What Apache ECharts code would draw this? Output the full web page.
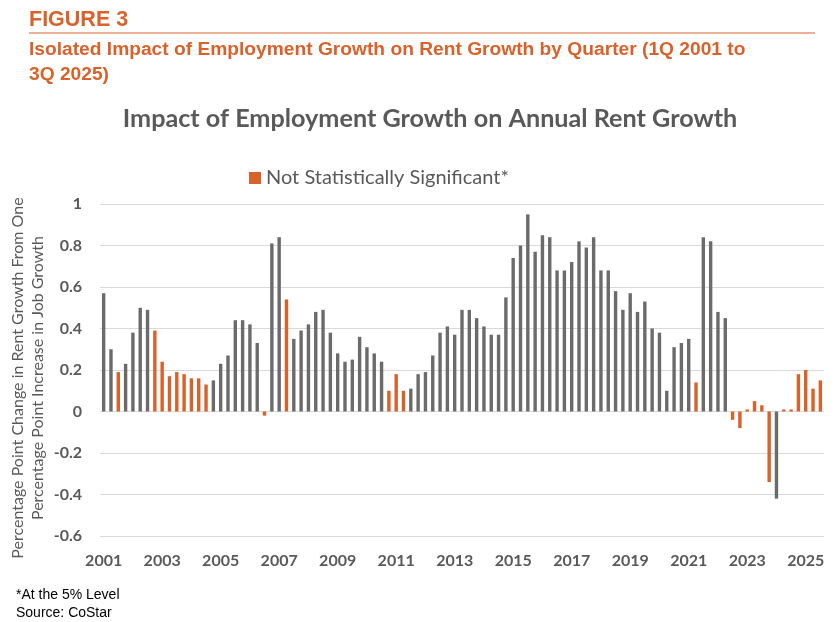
<!DOCTYPE html>
<html>
<head>
<meta charset="utf-8">
<script src="https://cdn.jsdelivr.net/npm/echarts@6/dist/echarts.min.js"></script>
<style>
  html, body { margin: 0; padding: 0; background: #fff; }
  #chart { width: 840px; height: 622px; }
</style>
</head>
<body>
<div id="chart"></div>
<script>
// quarterly impact, 1Q 2001 .. 3Q 2025
var firstYear = 2001;
var impact = [
  0.57, 0.30, 0.19, 0.23,   // 2001
  0.38, 0.50, 0.49, 0.39,   // 2002
  0.24, 0.17, 0.19, 0.18,   // 2003
  0.16, 0.16, 0.13, 0.15,   // 2004
  0.23, 0.27, 0.44, 0.44,   // 2005
  0.42, 0.33, -0.02, 0.81,  // 2006
  0.84, 0.54, 0.35, 0.39,   // 2007
  0.42, 0.48, 0.49, 0.38,   // 2008
  0.28, 0.24, 0.25, 0.36,   // 2009
  0.31, 0.28, 0.24, 0.10,   // 2010
  0.18, 0.10, 0.11, 0.18,   // 2011
  0.19, 0.27, 0.38, 0.41,   // 2012
  0.37, 0.49, 0.49, 0.45,   // 2013
  0.41, 0.37, 0.37, 0.55,   // 2014
  0.74, 0.80, 0.95, 0.77,   // 2015
  0.85, 0.84, 0.68, 0.68,   // 2016
  0.72, 0.82, 0.79, 0.84,   // 2017
  0.68, 0.68, 0.58, 0.49,   // 2018
  0.57, 0.48, 0.53, 0.40,   // 2019
  0.38, 0.10, 0.31, 0.33,   // 2020
  0.35, 0.14, 0.84, 0.82,   // 2021
  0.48, 0.45, -0.04, -0.08, // 2022
  0.01, 0.05, 0.03, -0.34,  // 2023
  -0.42, 0.01, 0.01, 0.18,  // 2024
  0.20, 0.11, 0.15          // 2025
];
// 0-based positions of quarters that are not significant at 5%
var notSignificant = [2, 7, 8, 9, 10, 11, 12, 13, 14, 22, 25, 39, 40, 41,
  81, 86, 87, 88, 89, 90, 91, 93, 94, 95, 96, 97, 98];
var yTicks = { min: -0.6, max: 1, interval: 0.2 };

var GRAY = '#6b6b6b';
var ORANGE = '#d9622b';
var TEXT = '#595959';

var quarters = [];
for (var i = 0; i < impact.length; i++) {
  quarters.push((i % 4 + 1) + 'Q ' + (firstYear + Math.floor(i / 4)));
}
var sigData = [], nsData = [];
impact.forEach(function (v, i) {
  var ns = notSignificant.indexOf(i) >= 0;
  sigData.push(ns ? null : v);
  nsData.push(ns ? v : null);
});

var chart = echarts.init(document.getElementById('chart'));
chart.setOption({
  animation: false,
  textStyle: { fontFamily: 'Lato' },
  grid: { left: 100, right: 16, top: 204, bottom: 86, outerBoundsMode: 'none' },
  legend: {
    data: ['Not Statistically Significant*'],
    left: 244, top: 163,
    itemWidth: 12, itemHeight: 12, itemGap: 6,
    icon: 'rect',
    textStyle: { fontFamily: 'Lato', fontSize: 20, color: TEXT }
  },
  graphic: [
    { type: 'text', left: 29, top: 9,
      style: { text: 'FIGURE 3', fontFamily: 'Liberation Sans', fontWeight: 'bold', fontSize: 21.5, fill: ORANGE } },
    { type: 'line', shape: { x1: 29, y1: 33, x2: 815, y2: 33 },
      style: { stroke: ORANGE, lineWidth: 1.2 } },
    { type: 'text', left: 29, top: 37,
      style: { text: 'Isolated Impact of Employment Growth on Rent Growth by Quarter (1Q 2001 to\n3Q 2025)',
        fontFamily: 'Liberation Sans', fontWeight: 'bold', fontSize: 19.2, lineHeight: 25, fill: ORANGE } },
    { type: 'text', x: 430, y: 106,
      style: { text: 'Impact of Employment Growth on Annual Rent Growth', textAlign: 'center',
        fontFamily: 'Lato', fontWeight: 'bold', fontSize: 25.2, fill: TEXT } },
    { type: 'text', left: 16, top: 586,
      style: { text: '*At the 5% Level\nSource: CoStar', fontFamily: 'Liberation Sans',
        fontSize: 14, lineHeight: 18, fill: '#000' } }
  ],
  xAxis: {
    type: 'category',
    data: quarters,
    axisLine: { show: false, onZero: false },
    axisTick: { show: false },
    axisLabel: {
      interval: 7, margin: 17,
      fontFamily: 'Lato', fontWeight: 'bold', fontSize: 16, color: TEXT,
      formatter: function (q) { return q.slice(3); }
    }
  },
  yAxis: {
    type: 'value',
    min: yTicks.min, max: yTicks.max, interval: yTicks.interval,
    name: 'Percentage Point Change in Rent Growth From One\nPercentage Point Increase in Job Growth',
    nameLocation: 'middle', nameGap: 52, nameMoveOverlap: false,
    nameTextStyle: { fontFamily: 'Lato', fontSize: 16, lineHeight: 20, color: TEXT, padding: [0, 16, 0, 0] },
    axisLabel: { margin: 18, fontFamily: 'Lato', fontWeight: 'bold', fontSize: 16, color: TEXT },
    splitLine: { lineStyle: { color: '#d9d9d9', width: 1 } }
  },
  series: [
    { name: 'Statistically Significant', type: 'bar', data: sigData,
      barWidth: 3.4, barGap: '-100%', itemStyle: { color: GRAY } },
    { name: 'Not Statistically Significant*', type: 'bar', data: nsData,
      barWidth: 3.4, barGap: '-100%', itemStyle: { color: ORANGE } }
  ]
});
</script>
</body>
</html>
